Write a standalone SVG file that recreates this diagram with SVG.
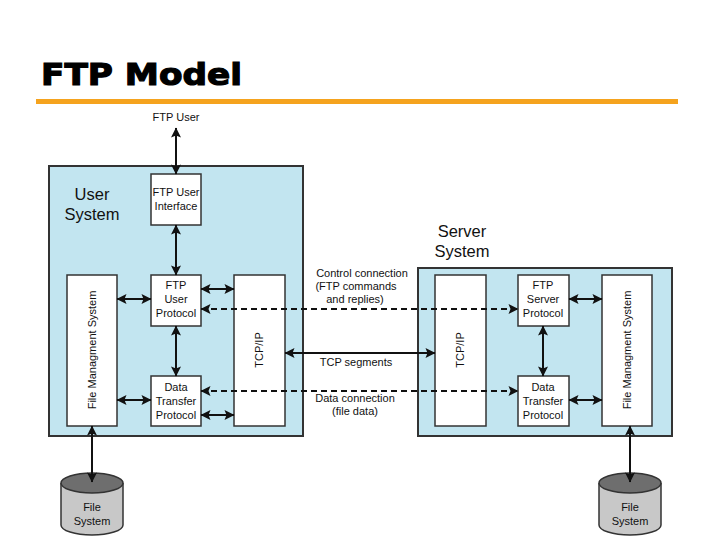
<svg xmlns="http://www.w3.org/2000/svg" width="720" height="540" viewBox="0 0 720 540">
<style>
text{font-family:"Liberation Sans",Arial,sans-serif;fill:#111}
.sys{fill:#c2e5f0;stroke:#333;stroke-width:2}
.box{fill:#fff;stroke:#333;stroke-width:1.5}
.lbl{font-size:11px;text-anchor:middle}
.big{font-size:16.5px;text-anchor:middle}
.c{stroke:#111;stroke-width:2;fill:none}
.d{stroke:#111;stroke-width:2;fill:none;stroke-dasharray:6 4}
</style>
<defs>
<marker id="ah" viewBox="0 0 10 10" refX="9.5" refY="5" markerWidth="5.5" markerHeight="5" orient="auto-start-reverse" markerUnits="strokeWidth">
<path d="M0,0 L10,5 L0,10 L2,5 Z" fill="#111"/>
</marker>
</defs>
<rect width="720" height="540" fill="#fff"/>
<g id="title">
<text x="41" y="85" font-size="31" font-weight="bold" textLength="201" lengthAdjust="spacingAndGlyphs" stroke="#000" stroke-width="1.2" style="font-family:'DejaVu Sans','Liberation Sans',sans-serif;fill:#000">FTP Model</text>
<rect x="36" y="99" width="642" height="5" fill="#f5a31e"/>
</g>
<g id="user-system">
<rect class="sys" x="49" y="166" width="254" height="270"/>
<text class="big" x="92" y="200">User</text>
<text class="big" x="92" y="220">System</text>
</g>
<g id="server-system">
<rect class="sys" x="418" y="268" width="254" height="168"/>
<text class="big" x="462" y="237">Server</text>
<text class="big" x="462" y="257">System</text>
</g>
<g id="ftp-user">
<text class="lbl" x="176" y="121">FTP User</text>
</g>
<g id="ftp-user-interface">
<rect class="box" x="151" y="174" width="50" height="51"/>
<text class="lbl" x="176" y="196">FTP User</text>
<text class="lbl" x="176" y="210">Interface</text>
</g>
<g id="user-fms">
<rect class="box" x="67" y="275" width="50" height="151"/>
<text class="lbl" transform="translate(96,350) rotate(-90)">File Managment System</text>
</g>
<g id="ftp-user-protocol">
<rect class="box" x="151" y="275" width="50" height="51"/>
<text class="lbl" x="176" y="289">FTP</text>
<text class="lbl" x="176" y="303">User</text>
<text class="lbl" x="176" y="317">Protocol</text>
</g>
<g id="user-dtp">
<rect class="box" x="151" y="376" width="50" height="50"/>
<text class="lbl" x="176" y="391">Data</text>
<text class="lbl" x="176" y="405">Transfer</text>
<text class="lbl" x="176" y="419">Protocol</text>
</g>
<g id="user-tcpip">
<rect class="box" x="234" y="275" width="51" height="151"/>
<text class="lbl" transform="translate(263,350) rotate(-90)">TCP/IP</text>
</g>
<g id="server-tcpip">
<rect class="box" x="435" y="275" width="51" height="151"/>
<text class="lbl" transform="translate(464,350) rotate(-90)">TCP/IP</text>
</g>
<g id="ftp-server-protocol">
<rect class="box" x="518" y="275" width="51" height="51"/>
<text class="lbl" x="543" y="289">FTP</text>
<text class="lbl" x="543" y="303">Server</text>
<text class="lbl" x="543" y="317">Protocol</text>
</g>
<g id="server-dtp">
<rect class="box" x="518" y="376" width="51" height="50"/>
<text class="lbl" x="543" y="391">Data</text>
<text class="lbl" x="543" y="405">Transfer</text>
<text class="lbl" x="543" y="419">Protocol</text>
</g>
<g id="server-fms">
<rect class="box" x="602" y="275" width="50" height="151"/>
<text class="lbl" transform="translate(631,350) rotate(-90)">File Managment System</text>
</g>
<g id="user-file-system">
<path d="M61,483 V525 A31,10 0 0 0 123,525 V483" fill="#c8c8c8" stroke="#333" stroke-width="1.5"/>
<ellipse cx="92" cy="483" rx="31" ry="10" fill="#6e6e6e" stroke="#333" stroke-width="1.5"/>
<text class="lbl" x="92" y="511">File</text>
<text class="lbl" x="92" y="525">System</text>
</g>
<g id="server-file-system">
<path d="M599,483 V525 A31,10 0 0 0 661,525 V483" fill="#c8c8c8" stroke="#333" stroke-width="1.5"/>
<ellipse cx="630" cy="483" rx="31" ry="10" fill="#6e6e6e" stroke="#333" stroke-width="1.5"/>
<text class="lbl" x="630" y="511">File</text>
<text class="lbl" x="630" y="525">System</text>
</g>
<g id="connectors">
<line class="c" x1="176" y1="128" x2="176" y2="174" marker-start="url(#ah)" marker-end="url(#ah)"/>
<line class="c" x1="176" y1="225" x2="176" y2="275" marker-start="url(#ah)" marker-end="url(#ah)"/>
<line class="c" x1="176" y1="326" x2="176" y2="376" marker-start="url(#ah)" marker-end="url(#ah)"/>
<line class="c" x1="117" y1="299" x2="151" y2="299" marker-start="url(#ah)" marker-end="url(#ah)"/>
<line class="c" x1="117" y1="400" x2="151" y2="400" marker-start="url(#ah)" marker-end="url(#ah)"/>
<line class="c" x1="201" y1="289" x2="234" y2="289" marker-start="url(#ah)" marker-end="url(#ah)"/>
<line class="c" x1="201" y1="415" x2="234" y2="415" marker-start="url(#ah)" marker-end="url(#ah)"/>
<line class="d" x1="201" y1="309" x2="518" y2="309" marker-start="url(#ah)" marker-end="url(#ah)"/>
<line class="d" x1="201" y1="391" x2="518" y2="391" marker-start="url(#ah)" marker-end="url(#ah)"/>
<line class="c" x1="285" y1="353" x2="435" y2="353" marker-start="url(#ah)" marker-end="url(#ah)"/>
<line class="c" x1="569" y1="299" x2="602" y2="299" marker-start="url(#ah)" marker-end="url(#ah)"/>
<line class="c" x1="569" y1="400" x2="602" y2="400" marker-start="url(#ah)" marker-end="url(#ah)"/>
<line class="c" x1="543" y1="326" x2="543" y2="376" marker-start="url(#ah)" marker-end="url(#ah)"/>
<line class="c" x1="92" y1="426" x2="92" y2="482" marker-start="url(#ah)" marker-end="url(#ah)"/>
<line class="c" x1="630" y1="426" x2="630" y2="482" marker-start="url(#ah)" marker-end="url(#ah)"/>
<text class="lbl" x="362" y="277">Control connection</text>
<text class="lbl" x="356" y="290">(FTP commands</text>
<text class="lbl" x="355" y="303">and replies)</text>
<text class="lbl" x="356" y="366">TCP segments</text>
<text class="lbl" x="355" y="402">Data connection</text>
<text class="lbl" x="355" y="415">(file data)</text>
</g>
</svg>
